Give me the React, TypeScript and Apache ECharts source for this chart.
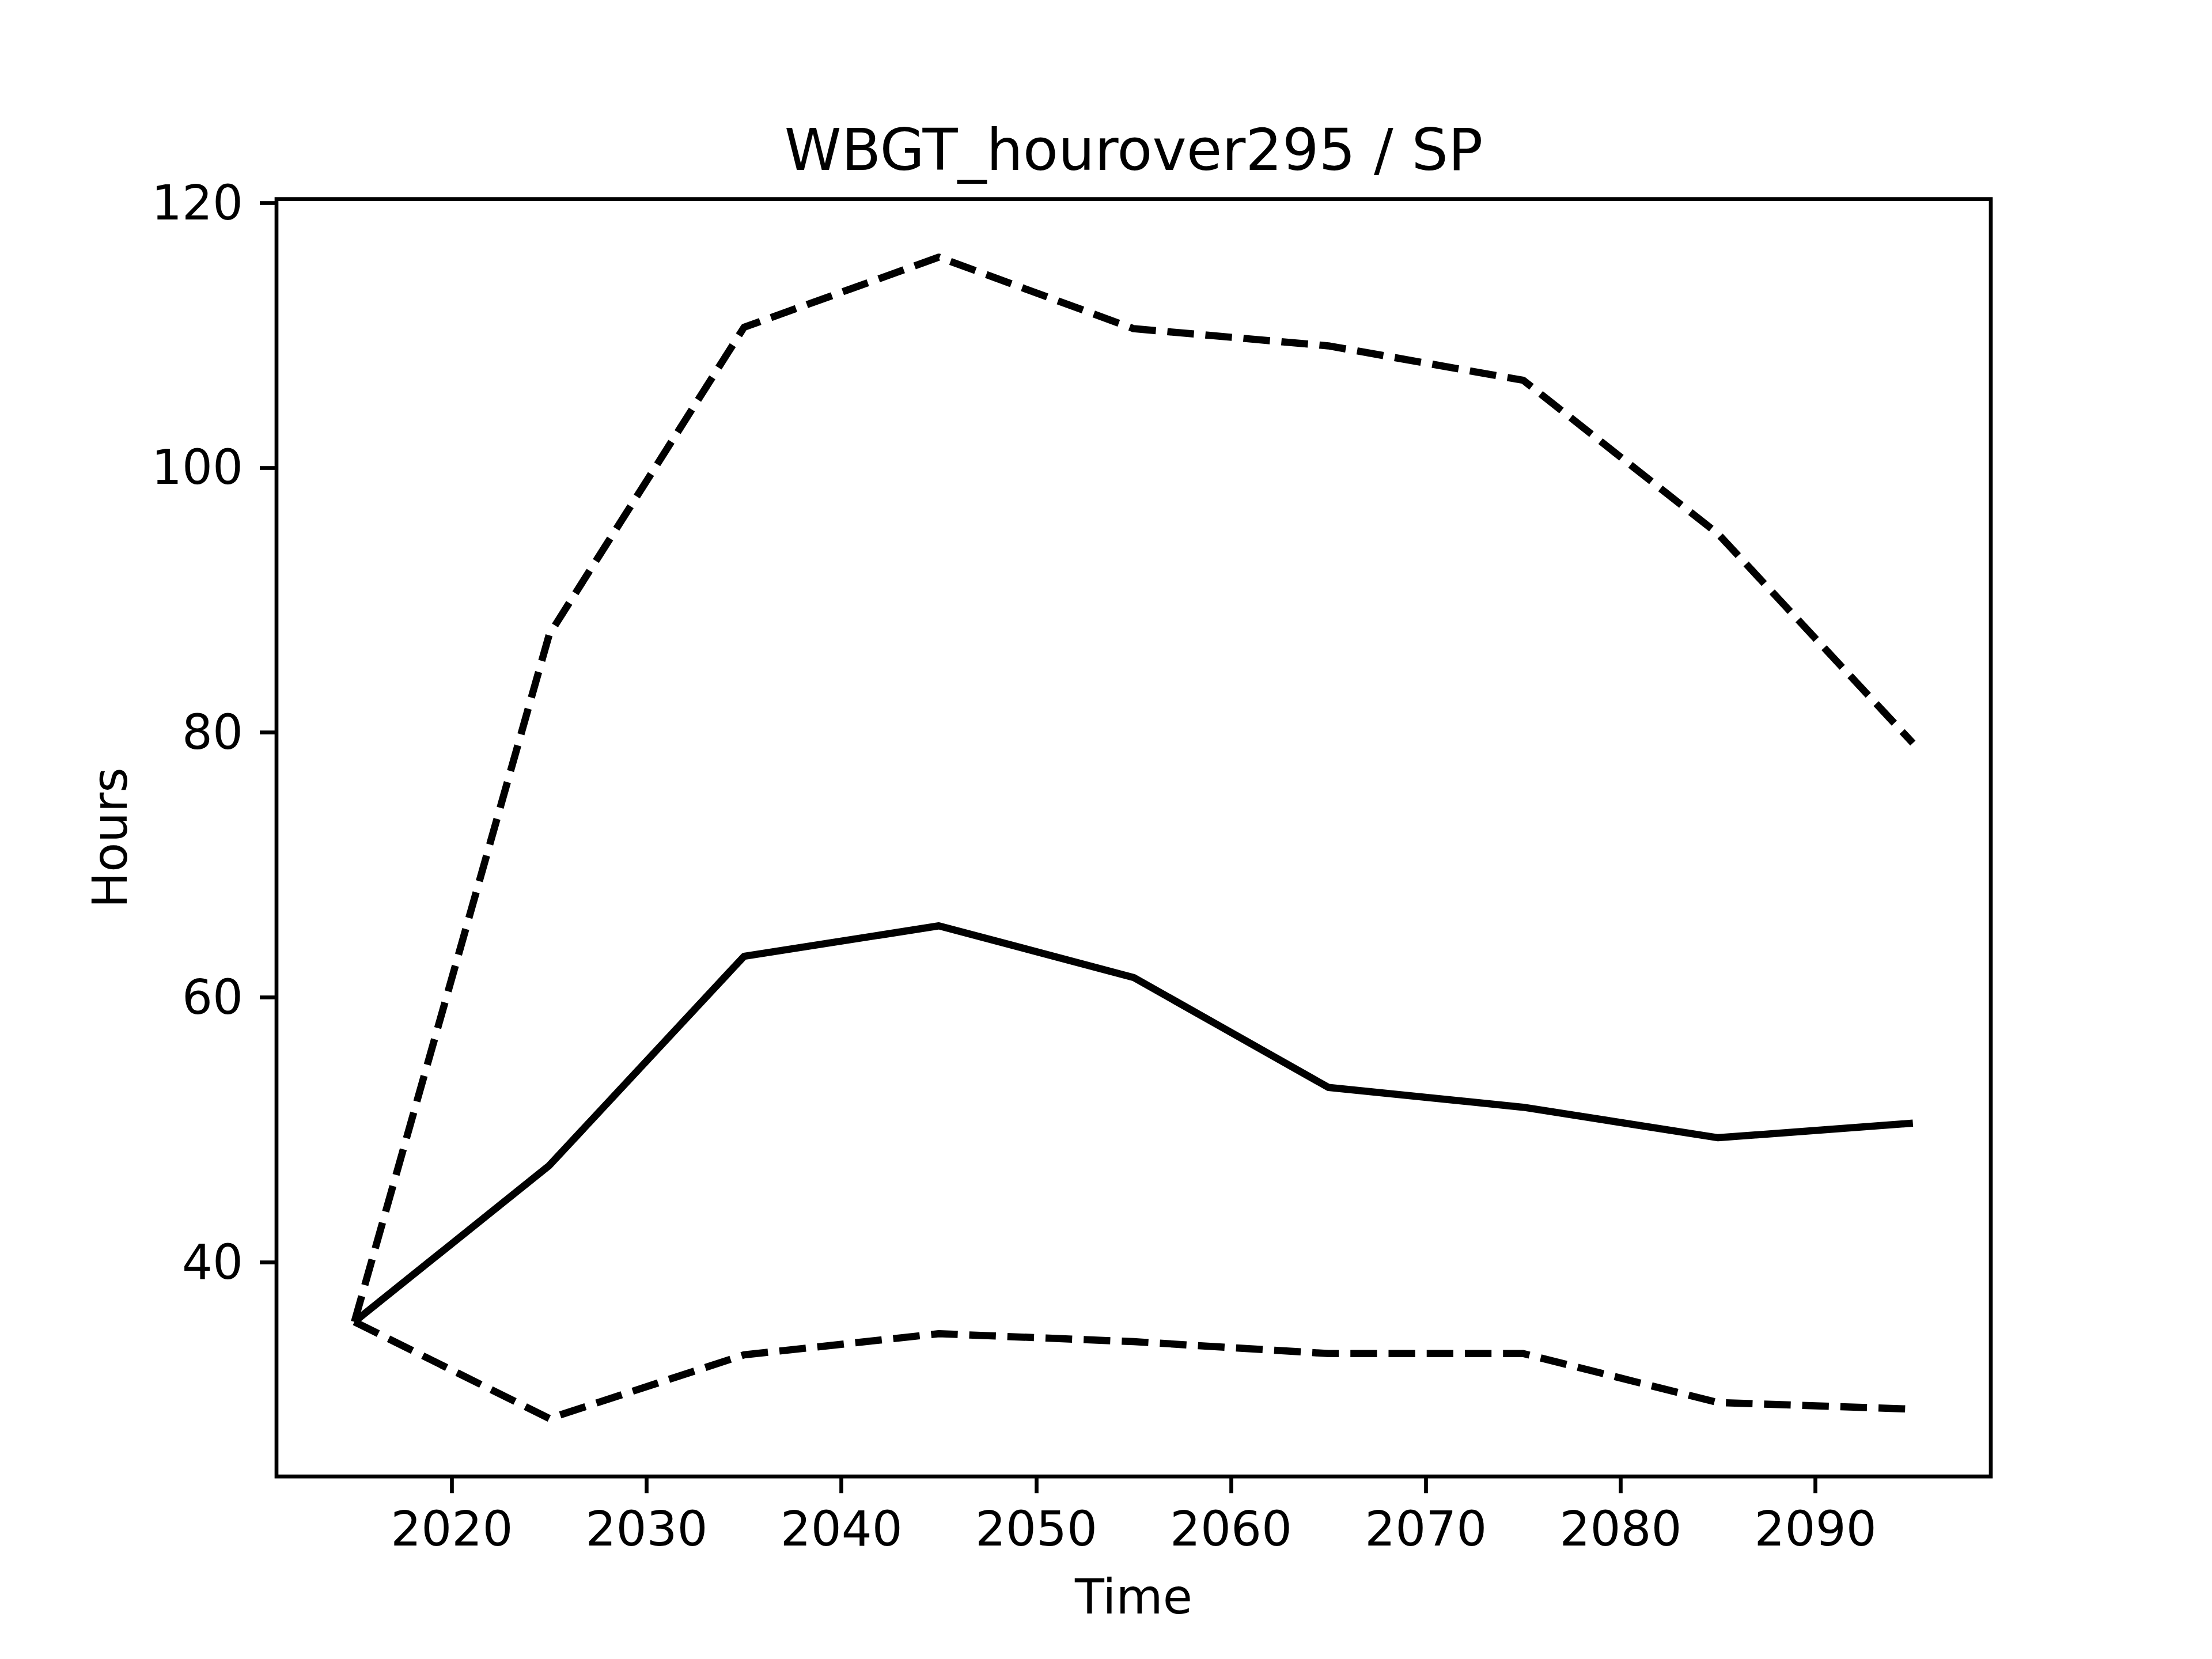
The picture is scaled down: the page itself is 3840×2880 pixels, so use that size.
import React, { useEffect, useRef } from "react";
import * as echarts from "echarts";

const years = [2015, 2025, 2035, 2045, 2055, 2065, 2075, 2085, 2095];
const meanValues = [35.5, 47.3, 63.1, 65.4, 61.5, 53.2, 51.7, 49.4, 50.5];
const upperValues = [35.5, 87.4, 110.6, 115.9, 110.5, 109.2, 106.6, 95.0, 79.2];
const lowerValues = [35.5, 28.2, 33.0, 34.6, 34.0, 33.1, 33.1, 29.4, 28.9];
const xTicks = [2020, 2030, 2040, 2050, 2060, 2070, 2080, 2090];
const yTicks = [40, 60, 80, 100, 120];
const titleText = "WBGT_hourover295 / SP";
const xName = "Time";
const yName = "Hours";

const FONT = "DejaVu Sans";
const LW = 12.5;

function pairs(vals: number[]) {
  return years.map((y, i) => [y, vals[i]]);
}

export default function App() {
  const ref = useRef<HTMLDivElement>(null);
  useEffect(() => {
    if (!ref.current) return;
    const chart = echarts.init(ref.current, null, { renderer: "svg" });
    const all = [...meanValues, ...upperValues, ...lowerValues];
    const dmin = Math.min(...all);
    const dmax = Math.max(...all);
    const ymin = dmin - 0.05 * (dmax - dmin);
    const ymax = dmax + 0.05 * (dmax - dmin);
    const xmin = years[0] - 0.05 * (years[years.length - 1] - years[0]);
    const xmax = years[years.length - 1] + 0.05 * (years[years.length - 1] - years[0]);

    const gridLeft = 480;
    const gridTop = 345.6;
    const gridW = 2976;
    const gridH = 2217.6;

    const dashed = {
      type: [46.25, 20] as any,
      width: LW,
      color: "#000",
      cap: "butt" as const,
      join: "round" as const,
    };

    chart.setOption({
      animation: false,
      backgroundColor: "#fff",
      title: {
        text: titleText,
        left: gridLeft + gridW / 2,
        textAlign: "center",
        top: 210,
        padding: 0,
        textStyle: {
          fontFamily: FONT,
          fontSize: 100,
          fontWeight: "normal",
          color: "#000",
        },
      },
      grid: {
        left: gridLeft,
        top: gridTop,
        width: gridW,
        height: gridH,
        show: true,
        borderColor: "#000",
        borderWidth: 6.67,
        backgroundColor: "transparent",
        containLabel: false,
      },
      xAxis: {
        type: "value",
        min: xmin,
        max: xmax,
        name: xName,
        nameLocation: "middle",
        nameGap: 209,
        nameTextStyle: {
          fontFamily: FONT,
          fontSize: 83.33,
          color: "#000",
          verticalAlign: "middle",
        },
        axisLine: { show: false },
        splitLine: { show: false },
        axisTick: {
          show: true,
          length: 29,
          inside: false,
          customValues: xTicks,
          lineStyle: { color: "#000", width: 6.67 },
        },
        axisLabel: {
          show: true,
          customValues: xTicks,
          margin: 50,
          fontFamily: FONT,
          fontSize: 83.33,
          color: "#000",
          formatter: (v: number) => String(v),
        },
      },
      yAxis: {
        type: "value",
        min: ymin,
        max: ymax,
        name: yName,
        nameLocation: "middle",
        nameGap: 289,
        nameTextStyle: {
          fontFamily: FONT,
          fontSize: 83.33,
          color: "#000",
          verticalAlign: "middle",
        },
        axisLine: { show: false },
        splitLine: { show: false },
        axisTick: {
          show: true,
          length: 29,
          inside: false,
          customValues: yTicks,
          lineStyle: { color: "#000", width: 6.67 },
        },
        axisLabel: {
          show: true,
          customValues: yTicks,
          margin: 58,
          fontFamily: FONT,
          fontSize: 83.33,
          color: "#000",
          formatter: (v: number) => String(v),
        },
      },
      series: [
        {
          name: "mean",
          type: "line",
          data: pairs(meanValues),
          symbol: "none",
          lineStyle: { width: LW, color: "#000", cap: "butt", join: "round" },
        },
        {
          name: "upper",
          type: "line",
          data: pairs(upperValues),
          symbol: "none",
          lineStyle: dashed,
        },
        {
          name: "lower",
          type: "line",
          data: pairs(lowerValues),
          symbol: "none",
          lineStyle: dashed,
        },
      ],
    });
    return () => chart.dispose();
  }, []);

  return (
    <div
      ref={ref}
      style={{ position: "absolute", left: 0, top: 0, width: 3840, height: 2880, background: "#fff" }}
    />
  );
}
